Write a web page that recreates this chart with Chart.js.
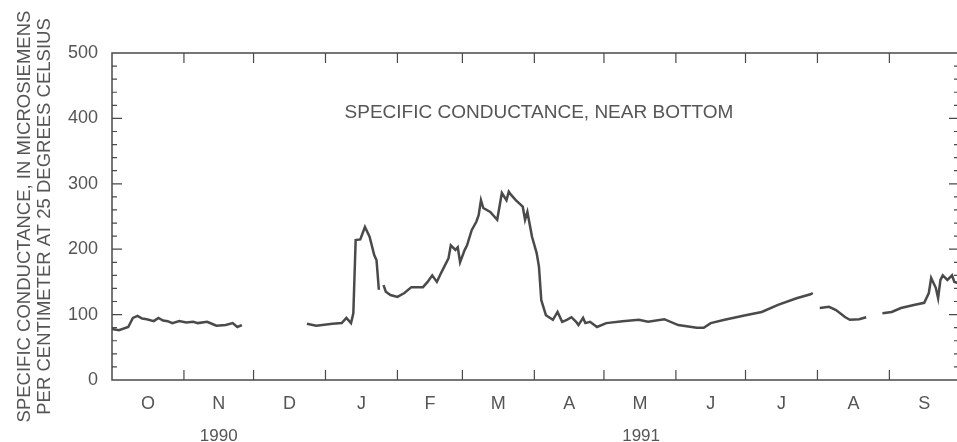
<!DOCTYPE html>
<html>
<head>
<meta charset="utf-8">
<script src="https://cdn.jsdelivr.net/npm/chart.js@4.4.0/dist/chart.umd.min.js"></script>
<style>
  html, body { margin:0; padding:0; background:#fff; overflow:hidden; }
  #wrap { width:962px; height:442px; }
</style>
</head>
<body>
<div id="wrap"><canvas id="cnv" width="962" height="442"></canvas></div>
<script>
// water year Oct 1990 - Sep 1991, x = days since Oct 1 1990
var monthStarts = [0,31,61,92,123,151,182,212,243,273,304,335,365]
var monthLabels = ['O','N','D','J','F','M','A','M','J','J','A','S']
var yearLabels = ['1990','1991']
var yearDays = [46, 228]

// daily specific conductance (null = missing record)
var days = [0,3,7,9,11,13,15,18,20,22,24,26,29,32,35,37,41,43,45,49,52,54,56,
  70,
  84,88,95,99,101,103,104,105,107,109,111,113,114,115,
  116,
  117,118,120,123,126,129,134,136,138,140,142,145,146,148,149,150,152,153,155,157,158,159,160,163,166,168,170,171,172,174,177,178,179,181,183,184,185,187,190,192,194,196,198,200,201,203,204,206,209,213,220,227,231,238,244,252,255,258,264,269,273,280,287,295,301,302,
  303,
  305,309,312,316,318,322,325,
  328,
  332,336,340,346,350,352,353,355,356,357,358,360,362,363,365]
var conductance = [78,76,81,95,98,94,93,90,95,91,90,87,90,88,89,87,89,86,83,84,87,81,84,
  null,
  86,83,86,87,95,87,102,214,215,234,219,191,183,138,
  null,
  145,135,130,127,133,142,142,150,160,150,165,186,206,199,203,180,199,206,229,242,252,275,263,257,245,286,275,288,283,275,265,245,257,219,194,173,122,99,92,104,89,92,96,89,84,95,87,89,81,87,90,92,89,93,84,80,80,87,92,96,99,104,115,125,131,133,
  null,
  110,112,107,96,92,93,96,
  null,
  102,104,110,115,118,133,156,141,125,153,160,153,160,150,148]

var yMax = 500
var yMajor = 100
var yMinor = 20
var chartTitle = 'SPECIFIC CONDUCTANCE, NEAR BOTTOM'
var yTitle = ['SPECIFIC CONDUCTANCE, IN MICROSIEMENS', 'PER CENTIMETER AT 25 DEGREES CELSIUS']

var ink = '#4a4a4a'
var textInk = '#555555'
var fontFam = '"Liberation Sans", Arial, Helvetica, sans-serif'

var monthMids = monthStarts.slice(0, -1).map(function(s, i){ return (s + monthStarts[i+1]) / 2 })

var framePlugin = {
  id: 'frame',
  afterDraw: function(chart){
    var c = chart.ctx, a = chart.chartArea
    var xs = chart.scales.x, ys = chart.scales.y
    c.save()
    c.strokeStyle = ink
    c.lineWidth = 1.5
    c.strokeRect(a.left, a.top, a.right - a.left, a.bottom - a.top)
    c.lineWidth = 1.2
    c.beginPath()
    monthStarts.slice(1, -1).forEach(function(d){
      var px = xs.getPixelForValue(d)
      c.moveTo(px, a.bottom); c.lineTo(px, a.bottom - 10)
      c.moveTo(px, a.top); c.lineTo(px, a.top + 10)
    })
    for (var v = yMinor; v < yMax; v += yMinor) {
      var py = ys.getPixelForValue(v)
      var len = (v % yMajor === 0) ? 10 : 5
      c.moveTo(a.left, py); c.lineTo(a.left + len, py)
      c.moveTo(a.right, py); c.lineTo(a.right - len, py)
    }
    c.stroke()
    c.fillStyle = textInk
    c.font = '19px ' + fontFam
    c.textAlign = 'center'
    c.textBaseline = 'middle'
    c.fillText(chartTitle, xs.getPixelForValue(184), ys.getPixelForValue(408))
    c.font = '17px ' + fontFam
    yearLabels.forEach(function(t, i){
      c.fillText(t, xs.getPixelForValue(yearDays[i]), a.bottom + 56)
    })
    c.restore()
  }
}

new Chart(document.getElementById('cnv').getContext('2d'), {
  type: 'line',
  data: {
    datasets: [{
      label: 'Specific conductance',
      data: days.map(function(d, i){ return {x: d, y: conductance[i]} }),
      borderColor: ink,
      borderWidth: 2.5,
      pointRadius: 0,
      tension: 0,
      spanGaps: false,
      fill: false
    }]
  },
  options: {
    responsive: false,
    animation: false,
    layout: { padding: { top: 53, right: 3, left: 0, bottom: 0 } },
    plugins: { legend: { display: false }, tooltip: { enabled: false } },
    scales: {
      x: {
        type: 'linear',
        min: 0,
        max: 365,
        afterFit: function(s){ s.height = 62 },
        afterBuildTicks: function(s){ s.ticks = monthMids.map(function(v){ return {value: v} }) },
        grid: { display: false, drawTicks: false },
        border: { display: false },
        ticks: {
          autoSkip: false,
          maxRotation: 0,
          padding: 13,
          color: textInk,
          font: { family: fontFam, size: 18 },
          callback: function(v, i){ return monthLabels[i] }
        }
      },
      y: {
        min: 0,
        max: yMax,
        afterFit: function(s){ s.width = 112 },
        grid: { display: false, drawTicks: false },
        border: { display: false },
        ticks: {
          stepSize: yMajor,
          padding: 14,
          color: textInk,
          font: { family: fontFam, size: 18 }
        },
        title: {
          display: true,
          text: yTitle,
          color: textInk,
          font: { family: fontFam, size: 18.5, lineHeight: 1.08 },
          padding: { top: 15, bottom: 0 }
        }
      }
    }
  },
  plugins: [framePlugin]
})
</script>
</body>
</html>
